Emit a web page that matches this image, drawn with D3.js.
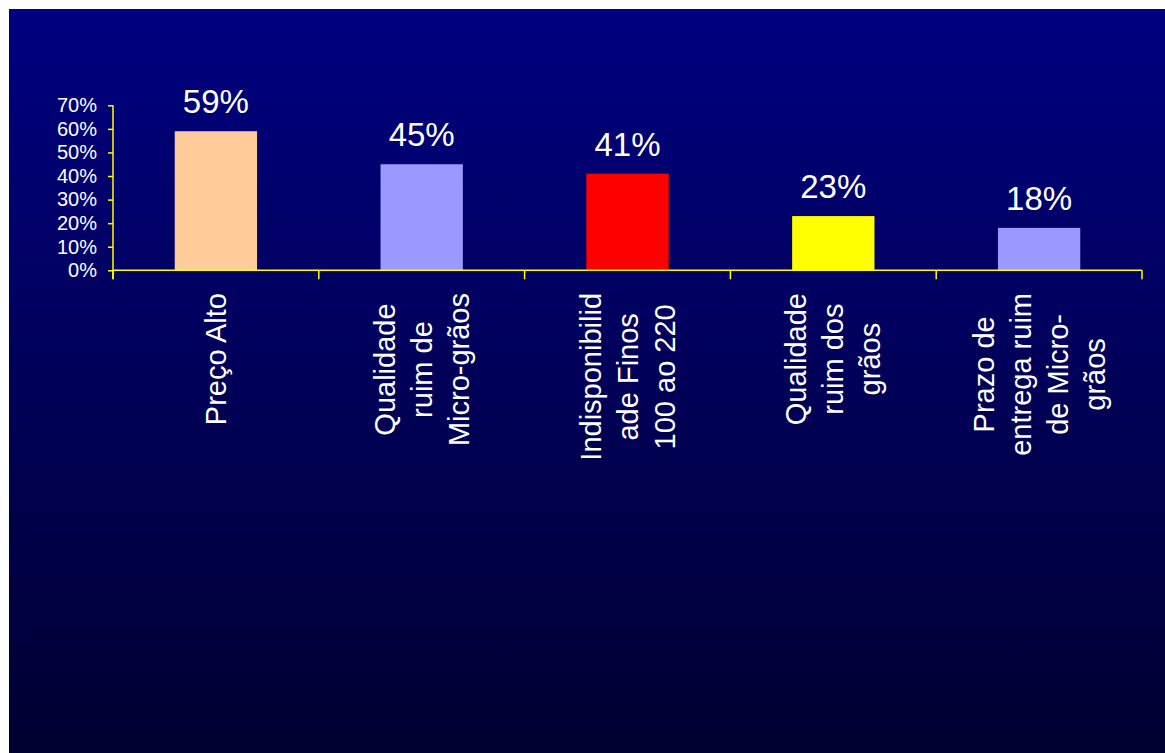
<!DOCTYPE html>
<html>
<head>
<meta charset="utf-8">
<script src="https://cdn.jsdelivr.net/npm/d3@7"></script>
<style>
  html, body { margin: 0; padding: 0; background: #ffffff; }
  svg { display: block; }
  text { font-family: "Liberation Sans", Arial, sans-serif; }
</style>
</head>
<body>
<svg id="chart" width="1165" height="753"></svg>
<script>
// Reasons given, share of respondents
const categories = [
  ["Preço Alto"],
  ["Qualidade", "ruim de", "Micro-grãos"],
  ["Indisponibilid", "ade Finos", "100 ao 220"],
  ["Qualidade", "ruim dos", "grãos"],
  ["Prazo de", "entrega ruim", "de Micro-", "grãos"]
];
const values = [0.59, 0.45, 0.41, 0.23, 0.18];
const barColors = ["#FFCC99", "#9999FF", "#FF0000", "#FFFF00", "#9999FF"];
const yTicks = [0, 0.1, 0.2, 0.3, 0.4, 0.5, 0.6, 0.7];

const svg = d3.select("#chart");
const W = 1165, H = 753;

// Slide background: navy vertical gradient
const defs = svg.append("defs");
const grad = defs.append("linearGradient")
  .attr("id", "bg").attr("x1", 0).attr("y1", 0).attr("x2", 0).attr("y2", 1);
grad.append("stop").attr("offset", "0%").attr("stop-color", "#000080");
grad.append("stop").attr("offset", "100%").attr("stop-color", "#000031");
svg.append("rect").attr("x", 9).attr("y", 9).attr("width", W - 9).attr("height", H - 9)
  .attr("fill", "url(#bg)");

const plot = { left: 113, right: 1142, top: 105.3, bottom: 270.3 };
const axisColor = "#FFFF00";

const x = d3.scaleBand()
  .domain(d3.range(categories.length))
  .range([plot.left, plot.right])
  .paddingInner(0.6)
  .paddingOuter(0.3);

const y = d3.scaleLinear().domain([0, 0.7]).range([plot.bottom, plot.top]);

// Bars
svg.append("g").selectAll("rect")
  .data(values)
  .join("rect")
  .attr("x", (d, i) => x(i))
  .attr("y", d => y(d))
  .attr("width", x.bandwidth())
  .attr("height", d => y(0) - y(d))
  .attr("fill", (d, i) => barColors[i]);

// Value labels above the bars
svg.append("g").selectAll("text")
  .data(values)
  .join("text")
  .attr("x", (d, i) => x(i) + x.bandwidth() / 2)
  .attr("y", d => y(d) - 18)
  .attr("text-anchor", "middle")
  .attr("fill", "#ffffff")
  .attr("font-size", 33)
  .text(d => d3.format(".0%")(d));

// Y axis
const yAxis = svg.append("g")
  .attr("transform", `translate(${plot.left},0)`)
  .call(d3.axisLeft(y).tickValues(yTicks).tickFormat(d3.format(".0%")).tickSize(5).tickPadding(11));
yAxis.select(".domain").remove();
yAxis.selectAll(".tick line").attr("stroke", axisColor).attr("stroke-width", 1.5);
yAxis.selectAll(".tick text")
  .attr("fill", "#ffffff")
  .attr("font-size", 20)
  .attr("font-family", "'Liberation Sans', Arial, sans-serif");

// Axis lines
const tickDown = 9;
svg.append("line")
  .attr("x1", plot.left).attr("x2", plot.left)
  .attr("y1", plot.top).attr("y2", plot.bottom + tickDown)
  .attr("stroke", axisColor).attr("stroke-width", 1.5);
svg.append("line")
  .attr("x1", plot.left).attr("x2", plot.right)
  .attr("y1", plot.bottom).attr("y2", plot.bottom)
  .attr("stroke", axisColor).attr("stroke-width", 1.5);

// Category boundary ticks
const boundaries = d3.range(categories.length + 1)
  .map(i => plot.left + i * x.step());
svg.append("g").selectAll("line")
  .data(boundaries)
  .join("line")
  .attr("x1", d => d).attr("x2", d => d)
  .attr("y1", plot.bottom).attr("y2", plot.bottom + tickDown)
  .attr("stroke", axisColor).attr("stroke-width", 1.5);

// Rotated multi-line category labels
const labelFont = 29, lineGap = 37, labelTop = 293;
categories.forEach((lines, i) => {
  const cx = x(i) + x.bandwidth() / 2;
  const g = svg.append("g");
  const texts = lines.map(line => g.append("text")
    .attr("font-size", labelFont)
    .attr("fill", "#ffffff")
    .attr("text-anchor", "middle")
    .text(line));
  const maxLen = d3.max(texts, t => t.node().getComputedTextLength());
  const cy = labelTop + maxLen / 2;
  const n = lines.length;
  texts.forEach((t, k) => {
    // horizontal offset of each line after rotation (first line leftmost)
    const off = (k - (n - 1) / 2) * lineGap;
    const baseX = cx + off + labelFont * 0.35;
    t.attr("transform", `translate(${baseX},${cy}) rotate(-90)`);
  });
});
</script>
</body>
</html>
